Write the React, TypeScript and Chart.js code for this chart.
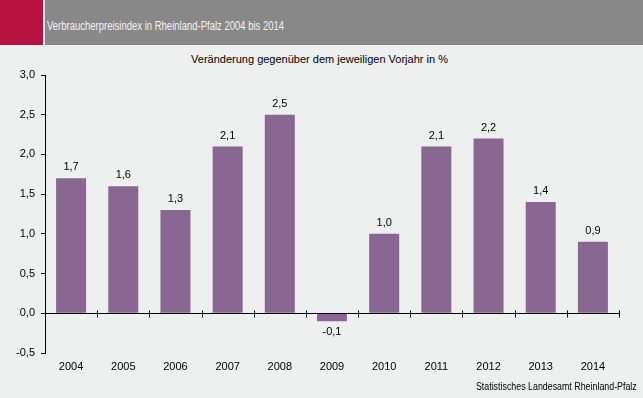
import React, { useEffect, useRef } from "react";
import { Chart, registerables } from "chart.js";

Chart.register(...registerables);

const years = ["2004", "2005", "2006", "2007", "2008", "2009", "2010", "2011", "2012", "2013", "2014"];
const changes = [1.7, 1.6, 1.3, 2.1, 2.5, -0.1, 1.0, 2.1, 2.2, 1.4, 0.9];
const titleText = "Verbraucherpreisindex in Rheinland-Pfalz 2004 bis 2014";
const subtitleText = "Veränderung gegenüber dem jeweiligen Vorjahr in %";
const sourceText = "Statistisches Landesamt Rheinland-Pfalz";

const FONT = "Arial, 'Liberation Sans', sans-serif";
const fmt = (v: number) => v.toFixed(1).replace(".", ",");

export default function App() {
  const ref = useRef<HTMLCanvasElement>(null);
  useEffect(() => {
    if (!ref.current) return;
    const labelPlugin = {
      id: "valueLabels",
      afterDatasetsDraw(chart: any) {
        const ctx = chart.ctx;
        const meta = chart.getDatasetMeta(0);
        ctx.save();
        ctx.font = `11px ${FONT}`;
        ctx.fillStyle = "#000";
        ctx.textAlign = "center";
        ctx.textBaseline = "middle";
        meta.data.forEach((el: any, i: number) => {
          const v = changes[i];
          const y = v >= 0 ? el.y - 11 : el.y + 11;
          ctx.fillText(fmt(v), el.x, y);
        });
        ctx.restore();
      },
    };
    const zeroAxisPlugin = {
      id: "zeroAxis",
      afterDatasetsDraw(chart: any) {
        const ctx = chart.ctx;
        const xs = chart.scales.x;
        const ys = chart.scales.y;
        const y0 = Math.round(ys.getPixelForValue(0)) + 0.5;
        ctx.save();
        ctx.strokeStyle = "#000";
        ctx.lineWidth = 1;
        ctx.beginPath();
        ctx.moveTo(chart.chartArea.left, y0);
        ctx.lineTo(chart.chartArea.right, y0);
        const half = (xs.getPixelForValue(1) - xs.getPixelForValue(0)) / 2;
        for (let i = 0; i <= years.length; i++) {
          const x = Math.round(xs.getPixelForValue(i) - half) + 0.5;
          ctx.moveTo(x, y0 - 3);
          ctx.lineTo(x, y0 + 4);
        }
        ctx.stroke();
        ctx.restore();
      },
    };
    const chart = new Chart(ref.current, {
      type: "bar",
      data: {
        labels: years,
        datasets: [
          {
            data: changes,
            backgroundColor: "#8A6692",
            borderWidth: 0,
            barPercentage: 0.575,
            categoryPercentage: 1,
          },
        ],
      },
      options: {
        animation: false,
        responsive: false,
        layout: { padding: { top: 75, bottom: 25, left: 0, right: 24 } },
        plugins: { legend: { display: false }, tooltip: { enabled: false }, title: { display: false } },
        scales: {
          x: {
            grid: { display: false, drawTicks: false },
            border: { display: false },
            ticks: { color: "#000", font: { family: FONT, size: 11 }, padding: 7 },
            afterFit(scale: any) {
              scale.height = 20;
            },
          },
          y: {
            min: -0.5,
            max: 3,
            grid: { drawOnChartArea: false, tickLength: 4, tickColor: "#000", color: "#000" },
            border: { display: true, color: "#000", width: 1 },
            ticks: {
              stepSize: 0.5,
              color: "#000",
              padding: 6,
              font: { family: FONT, size: 11 },
              callback: (v: any) => fmt(Number(v)),
            },
            afterFit(scale: any) {
              scale.width = 45;
            },
          },
        },
      },
      plugins: [labelPlugin, zeroAxisPlugin],
    });
    return () => chart.destroy();
  }, []);

  return (
    <div style={{ position: "fixed", left: 0, top: 0, width: 643, height: 398, background: "#EEF0EF", overflow: "hidden", fontFamily: FONT }}>
      <div style={{ position: "absolute", left: 0, top: 0, width: 43, height: 45, background: "#B7123F" }} />
      <div style={{ position: "absolute", left: 45, top: 0, width: 598, height: 45, background: "#888888" }} />
      <div style={{ position: "absolute", left: 47, top: 18, fontSize: 12.5, color: "#F4F4F4", whiteSpace: "nowrap", lineHeight: "16px", transform: "scaleX(0.76)", transformOrigin: "left center" }}>{titleText}</div>
      <div style={{ position: "absolute", left: 0, width: 643, top: 52, textAlign: "center", fontSize: 11, color: "#000", lineHeight: "14px", paddingRight: 4, boxSizing: "border-box" }}>{subtitleText}</div>
      <canvas ref={ref} width={643} height={398} style={{ position: "absolute", left: 0, top: 0 }} />
      <div style={{ position: "absolute", right: 6, top: 380, fontSize: 10, color: "#000", whiteSpace: "nowrap", lineHeight: "14px", transform: "scaleX(0.885)", transformOrigin: "right center" }}>{sourceText}</div>
    </div>
  );
}
